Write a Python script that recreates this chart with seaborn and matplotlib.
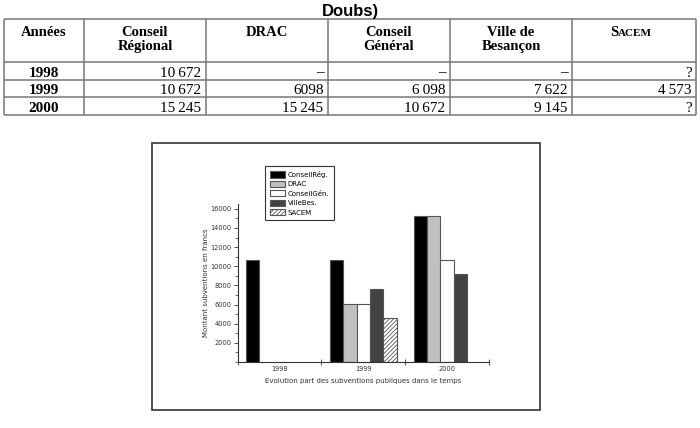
import numpy as np
import pandas as pd
import seaborn as sns
import matplotlib.pyplot as plt
from matplotlib.patches import Patch, Rectangle
from matplotlib.ticker import MultipleLocator, FixedLocator

# chart data (francs)
years = ['1998', '1999', '2000']
funders = ['ConseilRég.', 'DRAC', 'ConseilGén.', 'VilleBes.', 'SACEM']
conseil_reg = [10672, 10672, 15245]
drac = [np.nan, 6098, 15245]
conseil_gen = [np.nan, 6098, 10672]
ville_bes = [np.nan, 7622, 9145]
sacem = [np.nan, 4573, np.nan]

# table text, as printed
table_header = [['Années'], ['Conseil', 'Régional'], ['DRAC'], ['Conseil', 'Général'],
                ['Ville de', 'Besançon'], None]
table_rows = [
    ['1998', '10\u2009672', '–', '–', '–', '?'],
    ['1999', '10\u2009672', '6098', '6\u2009098', '7\u2009622', '4\u2009573'],
    ['2000', '15\u2009245', '15\u2009245', '10\u2009672', '9\u2009145', '?'],
]

colors = ['#000000', '#c0c0c0', '#ffffff', '#424242', '#ffffff']
hatches = ['', '', '', '', '////////']

plt.rcParams['hatch.linewidth'] = 0.6
serif = ['Liberation Serif', 'DejaVu Serif']

fig = plt.figure(figsize=(7, 4.28), dpi=100)

# background layer in pixel units for the table and the frame around the chart
bg = fig.add_axes([0, 0, 1, 1])
bg.set_xlim(0, 700)
bg.set_ylim(428, 0)
bg.axis('off')

bg.text(350, 15.5, 'Doubs)', ha='center', va='baseline', fontsize=12,
        fontweight='bold', family=['Liberation Sans', 'DejaVu Sans'])

col_edges = [4, 84, 206, 328, 450, 572, 696]
row_edges = [19.3, 62.3, 80, 97.3, 115]
bg.hlines(row_edges, col_edges[0], col_edges[-1], color='#777777', lw=1.1)
bg.vlines(col_edges, row_edges[0], row_edges[-1], color='#777777', lw=1.1)

for i, lines in enumerate(table_header):
    cx = (col_edges[i] + col_edges[i + 1]) / 2
    if lines is None:
        # small caps SACEM
        bg.text(cx - 16, 36, 'S', ha='right', va='baseline', fontsize=10.5,
                fontweight='bold', family=serif)
        bg.text(cx - 16, 36, 'ACEM', ha='left', va='baseline', fontsize=8,
                fontweight='bold', family=serif)
        continue
    for j, line in enumerate(lines):
        bg.text(cx, 36 + j * 14, line, ha='center', va='baseline', fontsize=10.5,
                fontweight='bold', family=serif)

baselines = [76.5, 93.5, 111.5]
for r, row in enumerate(table_rows):
    cx = (col_edges[0] + col_edges[1]) / 2
    bg.text(cx, baselines[r], row[0], ha='center', va='baseline', fontsize=11,
            fontweight='bold', family=serif)
    for c, cell in enumerate(row[1:], start=1):
        bg.text(col_edges[c + 1] - 4.5, baselines[r], cell, ha='right', va='baseline',
                fontsize=11, family=serif)

bg.add_patch(Rectangle((152, 142.5), 388, 267.5, fill=False, lw=1.2, ec='#333333'))

# the bar chart
df = pd.DataFrame({'year': years, funders[0]: conseil_reg, funders[1]: drac,
                   funders[2]: conseil_gen, funders[3]: ville_bes, funders[4]: sacem})
df = df.melt(id_vars='year', var_name='funder', value_name='value').dropna()

ax = fig.add_axes([237.7 / 700, (428 - 362) / 428, (489 - 237.7) / 700, 158 / 428])
sns.barplot(data=df, x='year', y='value', hue='funder', order=years, hue_order=funders,
            palette=dict(zip(funders, colors)), saturation=1, errorbar=None,
            edgecolor='#555555', linewidth=0.8, width=0.8, legend=False, ax=ax)

for name, cont in zip(funders, ax.containers):
    h = hatches[funders.index(name)]
    if h:
        for bar in cont:
            bar.set_hatch(h)

ax.set_xlim(-0.5, 2.5)
ax.set_ylim(0, 16500)
sns.despine(ax=ax)
for s in ['left', 'bottom']:
    ax.spines[s].set_linewidth(0.8)
    ax.spines[s].set_color('#333333')

ax.yaxis.set_major_locator(FixedLocator(list(range(2000, 16001, 2000))))
ax.yaxis.set_minor_locator(MultipleLocator(1000))
ax.xaxis.set_minor_locator(FixedLocator([-0.5, 0.5, 1.5, 2.5]))
ax.tick_params(axis='x', which='major', length=0, labelsize=4.8, pad=3, colors='#333333')
ax.tick_params(axis='x', which='minor', direction='inout', length=4, width=0.6, color='#333333')
ax.tick_params(axis='y', which='major', direction='out', length=3, width=0.6,
               labelsize=4.8, pad=1.5, colors='#333333')
ax.tick_params(axis='y', which='minor', direction='out', length=2, width=0.5, color='#333333')

ax.set_ylabel('Montant subventions en francs', fontsize=5, labelpad=1, color='#333333')
ax.set_xlabel('Evolution part des subventions publiques dans le temps', fontsize=5,
              labelpad=4, color='#333333')

handles = [Patch(facecolor=c, edgecolor='#555555', lw=0.8, hatch=h, label=f)
           for f, c, h in zip(funders, colors, hatches)]
leg = ax.legend(handles=handles, loc='upper left', bbox_to_anchor=(0.109, 1.24),
                borderaxespad=0, fontsize=5, frameon=True, fancybox=False, framealpha=1,
                edgecolor='#333333', handlelength=2.1, handleheight=1.0,
                labelspacing=0.42, borderpad=0.7, handletextpad=0.45)
leg.get_frame().set_linewidth(0.8)

fig.savefig('out.png', dpi=100)
